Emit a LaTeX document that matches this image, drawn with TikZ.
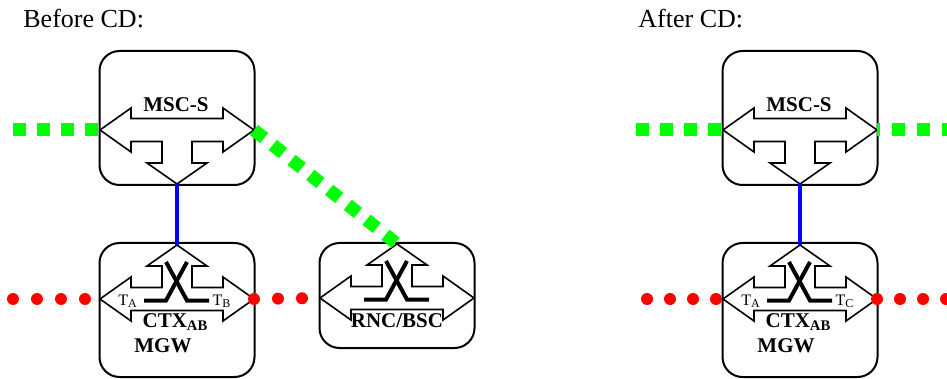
\documentclass[tikz,border=0pt]{standalone}
\usepackage{fontspec}
\setmainfont{Liberation Serif}
\usepackage{tikz}
\definecolor{ctrlgreen}{RGB}{0,255,0}
\definecolor{userred}{RGB}{255,0,0}
\definecolor{linkblue}{RGB}{0,0,255}

\begin{document}
\begin{tikzpicture}[x=0.5pt, y=-0.5pt,
    % Node styles
    box/.style={draw, rounded corners=10pt, line width=1pt, minimum width=77.5pt, minimum height=67pt, inner sep=0pt},
    title/.style={anchor=base west, inner sep=0pt, font=\fontsize{13}{15}\selectfont},
    boldtext/.style={anchor=base, inner sep=0pt, font=\fontsize{10.5}{12}\selectfont\bfseries},
    port/.style={anchor=base, inner sep=0pt, font=\fontsize{8}{9}\selectfont},
    % Edge styles
    control/.style={draw=ctrlgreen, line width=6.5pt, dash pattern=on 6.5pt off 5.5pt},
    bearer/.style={draw=userred, line width=6pt, line cap=round, dash pattern=on 0pt off 12pt},
    internal/.style={draw=linkblue, line width=1.6pt},
    % Symbols
    tarrow/.pic={
        \draw[line width=0.8pt] (-77,0) -- (-46,-22) -- (-46,-11.5) -- (46,-11.5) -- (46,-22) -- (77,0)
            -- (46,22) -- (46,11.5) -- (15,11.5) -- (15,33) -- (30,33) -- (0,54) -- (-30,33)
            -- (-15,33) -- (-15,11.5) -- (-46,11.5) -- (-46,22) -- cycle;
        \coordinate (-w) at (-77,0);
        \coordinate (-e) at (77,0);
        \coordinate (-s) at (0,54);
    },
    xconn/.pic={
        \draw[line width=2pt] (-11,-37) -- (10,1.5) -- (32,1.5);
        \draw[line width=2pt] (10,-37) -- (-11,1.5) -- (-33,1.5);
    }
]
\useasboundingbox (0,0) rectangle (947,379);

% Titles
\node[title] (before) at (23,28) {Before CD:};
\node[title] (after) at (638,28) {After CD:};

% Before - boxes
\node[box] (msca) at (177,118) {};
\node[box] (mgwa) at (177,310) {};
\node[box, minimum height=52.5pt] (rnc) at (397,295.5) {};

% Before - symbols
\pic (mscaarr) at (177,130) {tarrow};
\pic[yscale=-1] (mgwaarr) at (177,299) {tarrow};
\pic (mgwax) at (177,299) {xconn};
\pic[yscale=-1] (rncarr) at (397,298) {tarrow};
\pic (rncx) at (397,298) {xconn};

% Before - texts
\node[boldtext] (mscatxt) at (176,112) {MSC-S};
\node[boldtext] (ctxa) at (175.5,327) {CTX\textsubscript{AB}};
\node[boldtext] (mgwatxt) at (163,352) {MGW};
\node[boldtext] (rnctxt) at (397,327) {RNC/BSC};
\node[port] (ta1) at (128,305) {T\textsubscript{A}};
\node[port] (tb) at (222,305) {T\textsubscript{B}};

% After - boxes
\node[box] (mscb) at (800,118) {};
\node[box] (mgwb) at (800,310) {};

% After - symbols
\pic (mscbarr) at (800,130) {tarrow};
\pic[yscale=-1] (mgwbarr) at (800,299) {tarrow};
\pic (mgwbx) at (800,299) {xconn};

% After - texts
\node[boldtext] (mscbtxt) at (799,112) {MSC-S};
\node[boldtext] (ctxb) at (798.5,327) {CTX\textsubscript{AB}};
\node[boldtext] (mgwbtxt) at (786,352) {MGW};
\node[port] (ta2) at (751,305) {T\textsubscript{A}};
\node[port] (tc) at (845,305) {T\textsubscript{C}};

% Free ends
\coordinate (gwa) at (13,130);
\coordinate (rwa) at (13,299);
\coordinate (gwb) at (636,130);
\coordinate (geb) at (960,130);
\coordinate (rwb) at (647,299);
\coordinate (reb) at (960,299);

% Draw all links
\draw[internal] (mscaarr-s) -- (mgwaarr-s);
\draw[internal] (mscbarr-s) -- (mgwbarr-s);

\draw[control] (gwa) -- (mscaarr-w);
\draw[control] (mscaarr-e) -- (rncarr-s);
\draw[control] (gwb) -- (mscbarr-w);
\draw[control, dash pattern=on 6.5pt off 6pt, dash phase=5pt] (mscbarr-e) -- (geb);

\draw[bearer] (rwa) -- (mgwaarr-w);
\draw[bearer] (mgwaarr-e) -- (rncarr-w);
\draw[bearer, dash pattern=on 0pt off 11.5pt] (rwb) -- (mgwbarr-w);
\draw[bearer, dash pattern=on 0pt off 11.5pt] (mgwbarr-e) -- (reb);

\end{tikzpicture}
\end{document}
